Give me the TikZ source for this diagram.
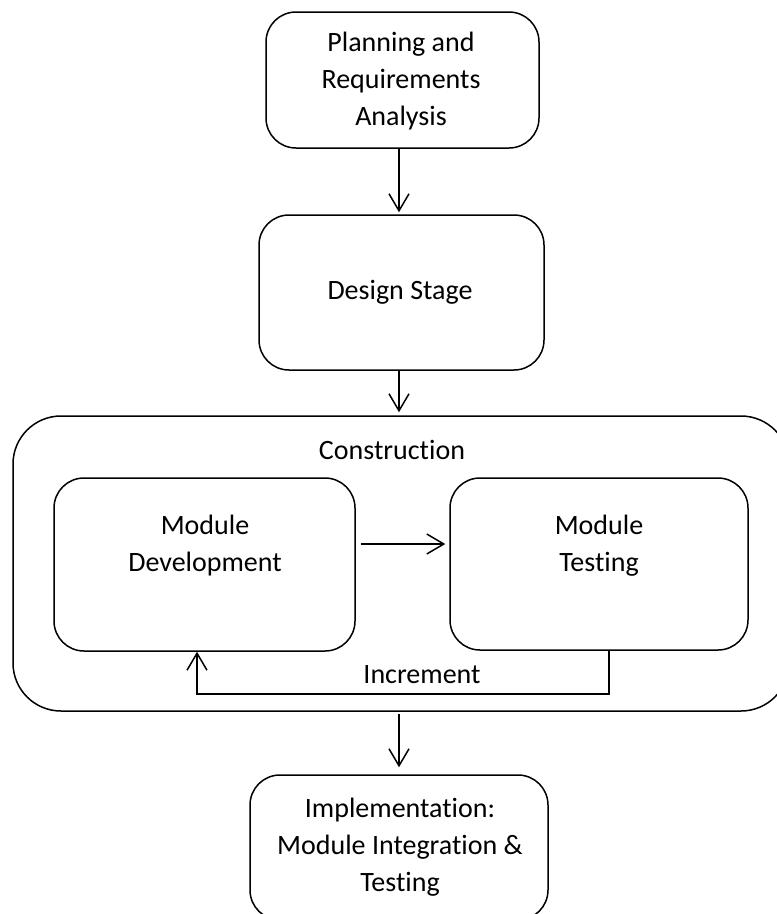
\documentclass[tikz,border=0pt]{standalone}
\usepackage{fontspec}
\setmainfont{Carlito}[Ligatures=NoCommon]
\usetikzlibrary{arrows.meta}
\begin{document}
\begin{tikzpicture}[x=1pt,y=-1pt,
  box/.style={draw,line width=1.5pt,rounded corners=30pt,inner sep=0pt},
  txt/.style={align=center,font=\fontsize{28}{37}\selectfont,inner sep=0pt},
  arr/.style={line width=1.5pt,-{Straight Barb[length=17pt,width=20pt,line width=1.5pt]}}]
\useasboundingbox (0,0) rectangle (777,914);
\clip (0,0) rectangle (777,914);
\fill[white] (0,0) rectangle (777,914);
\node[box,minimum width=273pt,minimum height=136pt] (plan) at (402.5,80) {};
\node[txt] (plantxt) at (401,81) {Planning and\\Requirements\\Analysis};
\node[box,minimum width=285pt,minimum height=155pt] (design) at (401.5,292.5) {};
\node[txt] (designtxt) at (400,292) {Design Stage};
\node[box,rounded corners=48pt,minimum width=776pt,minimum height=295pt] (cons) at (401,563.5) {};
\node[txt] (constxt) at (392,450) {Construction};
\node[box,minimum width=301pt,minimum height=173pt] (dev) at (204.5,564.5) {};
\node[txt] (devtxt) at (205,546) {Module\\Development};
\node[box,minimum width=298pt,minimum height=172pt] (test) at (599,564) {};
\node[txt] (testtxt) at (599,546) {Module\\Testing};
\node[txt] (inc) at (422,675) {Increment};
\node[box,minimum width=298pt,minimum height=145pt] (impl) at (399,847.5) {};
\node[txt] (impltxt) at (400,847) {Implementation:\\Module Integration \&\\Testing};
\draw[arr] ([xshift=-3.5pt]plan.south) -- ([xshift=-2.5pt,yshift=2pt]design.north);
\draw[arr] ([xshift=-2.5pt]design.south) -- ([xshift=-2pt,yshift=3pt]cons.north);
\draw[arr] ([xshift=-2pt,yshift=-2pt]cons.south) -- ([yshift=7pt]impl.north);
\draw[arr] ([xshift=5pt,yshift=20.5pt]dev.east) -- ([xshift=-4pt,yshift=20pt]test.west);
\draw[arr] ([xshift=10pt]test.south) -- ++(0,43) -| ([xshift=-7.5pt]dev.south);
\end{tikzpicture}
\end{document}
